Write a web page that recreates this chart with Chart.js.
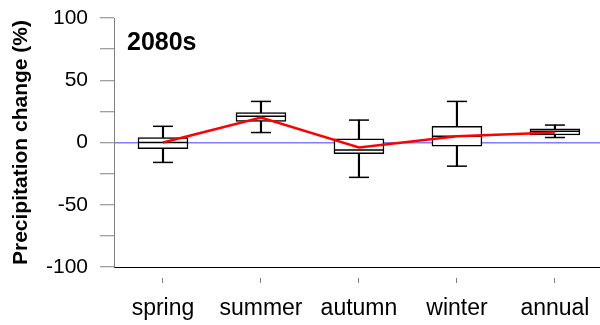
<!DOCTYPE html>
<html lang="en">
<head>
<meta charset="UTF-8">
<title>Precipitation change 2080s</title>
<script src="https://cdn.jsdelivr.net/npm/chart.js"></script>
<style>
  html, body { margin: 0; padding: 0; background: #fff; }
  #wrap { width: 600px; height: 325px; }
</style>
</head>
<body>
<div id="wrap"><canvas id="chart"></canvas></div>
<script>
// seasonal precipitation change, box = quartiles, whiskers = range
const seasons = ['spring', 'summer', 'autumn', 'winter', 'annual'];
const whiskerLow = [-16, 8, -28, -19, 4];
const boxLow = [-5, 17, -9, -3, 6];
const medians = [0, 21, -6, 5, 9];
const boxHigh = [4, 24, 3, 13, 11];
const whiskerHigh = [13, 33, 18, 33, 14];
const meanLine = [0, 20, -4, 5, 8];
const periodLabel = '2080s';

const xs = seasons.map((s, i) => i + 1);
const pts = arr => xs.map((x, i) => ({ x: x, y: arr[i] }));
const ranges = (lo, hi) => xs.map((x, i) => ({ x: x, y: [lo[i], hi[i]] }));

Chart.defaults.font.family = '"Liberation Sans", Arial, sans-serif';
Chart.defaults.color = '#000';

const periodTag = {
  id: 'periodTag',
  afterDraw(chart) {
    const { ctx, chartArea } = chart;
    ctx.save();
    ctx.font = 'bold 25px "Liberation Sans", Arial, sans-serif';
    ctx.fillStyle = '#000';
    ctx.textBaseline = 'alphabetic';
    ctx.fillText(periodLabel, chartArea.left + 13, chartArea.top + 32);
    ctx.restore();
  }
};

const capStyle = {
  type: 'line', showLine: false, pointStyle: 'line',
  pointRadius: 10, pointBorderWidth: 1.5, pointBorderColor: '#000',
  pointHoverRadius: 10, order: 2
};

new Chart(document.getElementById('chart'), {
  type: 'bar',
  data: {
    datasets: [
      {
        label: 'lower whisker', data: ranges(whiskerLow, boxLow),
        backgroundColor: '#000', borderWidth: 0, barThickness: 1.5, grouped: false, order: 4
      },
      {
        label: 'upper whisker', data: ranges(boxHigh, whiskerHigh),
        backgroundColor: '#000', borderWidth: 0, barThickness: 1.5, grouped: false, order: 4
      },
      {
        label: 'box', data: ranges(boxLow, boxHigh),
        backgroundColor: '#fff', borderColor: '#000', borderWidth: 1.5,
        borderSkipped: false, barThickness: 50, grouped: false, order: 3
      },
      Object.assign({ label: 'low cap', data: pts(whiskerLow) }, capStyle),
      Object.assign({ label: 'high cap', data: pts(whiskerHigh) }, capStyle),
      Object.assign({ label: 'median', data: pts(medians) }, capStyle, { pointRadius: 24.5, pointHoverRadius: 24.5 }),
      {
        type: 'line', label: 'mean', data: pts(meanLine),
        borderColor: '#ff0000', borderWidth: 2.5, pointRadius: 0, tension: 0, order: 0
      }
    ]
  },
  options: {
    responsive: true,
    maintainAspectRatio: false,
    animation: false,
    layout: { autoPadding: false, padding: { top: 18, right: 0, bottom: 0, left: 0 } },
    plugins: { legend: { display: false }, tooltip: { enabled: false } },
    scales: {
      x: {
        type: 'linear', min: 0.5, max: 5.46, offset: false,
        afterBuildTicks: s => { s.ticks = xs.map(v => ({ value: v })); },
        ticks: {
          callback: v => seasons[v - 1] || '',
          font: { size: 23 }, padding: 12, autoSkip: false, maxRotation: 0
        },
        grid: {
          offset: false, drawOnChartArea: false, tickLength: 16, tickBorderDash: [0, 10, 6],
          tickColor: '#808080', tickWidth: 1
        },
        border: { color: '#000' },
        afterFit: s => { s.height = 58; s.paddingLeft = 0; s.paddingRight = 0; }
      },
      y: {
        min: -100, max: 100,
        ticks: {
          stepSize: 25,
          callback: v => (v % 50 === 0 ? v : ''),
          font: { size: 21 }, padding: 12
        },
        grid: {
          color: c => (c.tick && c.tick.value === 0 ? '#7f7fff' : 'rgba(0,0,0,0)'),
          lineWidth: 1.5, tickColor: '#808080', tickLength: 14, tickWidth: 1
        },
        border: { color: '#808080' },
        title: {
          display: true, text: 'Precipitation change (%)',
          font: { size: 21, weight: 'bold' }, padding: { top: 9, bottom: 0 }
        },
        afterFit: s => { s.width = 114; s.paddingTop = 0; s.paddingBottom = 0; }
      }
    }
  },
  plugins: [periodTag]
});
</script>
</body>
</html>
